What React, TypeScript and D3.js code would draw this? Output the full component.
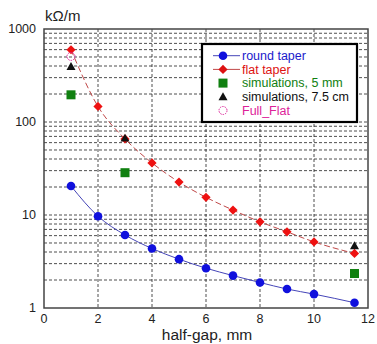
import React from "react";
import * as d3 from "d3";

// half-gap (mm) for the taper curves
const gapRound = [1, 2, 3, 4, 5, 6, 7, 8, 9, 10, 11.5];
const roundTaper = [20.5, 9.7, 6.1, 4.36, 3.35, 2.68, 2.23, 1.88, 1.6, 1.41, 1.14];
const flatTaper = [598, 147, 65.7, 36.3, 22.6, 15.5, 11.3, 8.45, 6.59, 5.14, 3.86];

const gapSim = [1, 3, 11.5];
const sim5mm = [196, 28.5, 2.35];
const sim75cm = [395, 66.9, 4.66];

const gapFull = [1];
const fullFlat = [507];

const xTicks = [0, 2, 4, 6, 8, 10, 12];
const yTicks = [1, 10, 100, 1000];

const legendItems = [
  { label: "round taper", color: "#1a1acc", kind: "round" },
  { label: "flat taper", color: "#dd1111", kind: "flat" },
  { label: "simulations, 5 mm", color: "#108010", kind: "square" },
  { label: "simulations, 7.5 cm", color: "#111111", kind: "tri" },
  { label: "Full_Flat", color: "#dd2299", kind: "ring" },
];

const W = 377;
const H = 344;
const m = { left: 44, right: 9, top: 29, bottom: 36 };

export default function App() {
  const x = d3.scaleLinear().domain([0, 12]).range([m.left, W - m.right]);
  const y = d3.scaleLog().domain([1, 1000]).range([H - m.bottom, m.top]);

  const minorY: number[] = [];
  [1, 10, 100].forEach((d) => {
    for (let k = 1; k <= 9; k++) {
      const v = d * k;
      if (v > 1 && v < 1000) minorY.push(v);
    }
  });

  const line = d3
    .line<[number, number]>()
    .x((d) => x(d[0]))
    .y((d) => y(d[1]))
    .curve(d3.curveMonotoneX);

  const diamond = (cx: number, cy: number, r: number) =>
    `M${cx},${cy - r}L${cx + r},${cy}L${cx},${cy + r}L${cx - r},${cy}Z`;
  const tri = (cx: number, cy: number, r: number) =>
    `M${cx},${cy - r}L${cx + r},${cy + r * 0.75}L${cx - r},${cy + r * 0.75}Z`;

  const marker = (kind: string, cx: number, cy: number, color: string, key: string | number) => {
    if (kind === "round") return <circle key={key} cx={cx} cy={cy} r={4.3} fill={color} />;
    if (kind === "flat") return <path key={key} d={diamond(cx, cy, 4.6)} fill={color} />;
    if (kind === "square")
      return <rect key={key} x={cx - 4.5} y={cy - 4.5} width={9} height={9} fill={color} />;
    if (kind === "tri") return <path key={key} d={tri(cx, cy, 4.5)} fill={color} />;
    return (
      <circle
        key={key}
        cx={cx}
        cy={cy}
        r={4}
        fill="none"
        stroke={color}
        strokeWidth={1}
        strokeDasharray="1.5,1"
      />
    );
  };

  const lg = { x: 202, y: 44, w: 155, h: 78, row: 13.7 };

  return (
    <svg
      width={W}
      height={H}
      style={{ position: "absolute", left: 0, top: 0, background: "#fff" }}
      fontFamily="Liberation Sans, Arial, sans-serif"
    >
      {/* horizontal grid */}
      {minorY.map((v) => (
        <line
          key={"hy" + v}
          x1={m.left}
          x2={W - m.right}
          y1={y(v)}
          y2={y(v)}
          stroke="#222"
          strokeWidth={0.8}
          strokeDasharray="3,2"
        />
      ))}
      {/* vertical grid */}
      {xTicks.slice(1, -1).map((t) => (
        <line
          key={"vx" + t}
          x1={x(t)}
          x2={x(t)}
          y1={m.top}
          y2={H - m.bottom}
          stroke="#222"
          strokeWidth={0.8}
          strokeDasharray="3,2"
        />
      ))}
      <rect
        x={m.left}
        y={m.top}
        width={W - m.left - m.right}
        height={H - m.top - m.bottom}
        fill="none"
        stroke="#444"
        strokeWidth={1.5}
      />

      {/* curves */}
      <path
        d={line(gapRound.map((g, i) => [g, roundTaper[i]]) as [number, number][]) || ""}
        fill="none"
        stroke="#4545b8"
        strokeWidth={1}
      />
      <path
        d={line(gapRound.map((g, i) => [g, flatTaper[i]]) as [number, number][]) || ""}
        fill="none"
        stroke="#c04848"
        strokeWidth={1}
        strokeDasharray="6,3"
      />

      {gapRound.map((g, i) => marker("round", x(g), y(roundTaper[i]), "#1010dd", "r" + i))}
      {gapRound.map((g, i) => marker("flat", x(g), y(flatTaper[i]), "#ee1111", "f" + i))}
      {gapSim.map((g, i) => marker("square", x(g), y(sim5mm[i]), "#108010", "s" + i))}
      {gapSim.map((g, i) => marker("tri", x(g), y(sim75cm[i]), "#111", "t" + i))}
      {gapFull.map((g, i) => marker("ring", x(g), y(fullFlat[i]), "#dd2299", "u" + i))}

      {/* axis labels */}
      {xTicks.map((t) => (
        <text key={"xt" + t} x={x(t)} y={H - m.bottom + 15} fontSize={12.5} textAnchor="middle" fill="#222">
          {t}
        </text>
      ))}
      {yTicks.map((t) => (
        <text key={"yt" + t} x={m.left - 8} y={y(t) + 4} fontSize={12.5} textAnchor="end" fill="#222">
          {t}
        </text>
      ))}
      <text x={45} y={21} fontSize={15} fill="#222">
        kΩ/m
      </text>
      <text x={207} y={340} fontSize={15.5} textAnchor="middle" fill="#222">
        half-gap, mm
      </text>

      {/* legend */}
      <rect x={lg.x} y={lg.y} width={lg.w} height={lg.h} fill="#fff" stroke="#000" strokeWidth={2.2} />
      {legendItems.map((it, i) => {
        const cy = lg.y + 11.7 + i * lg.row;
        return (
          <g key={"lg" + i}>
            {it.kind === "round" && (
              <line x1={213} x2={240} y1={cy} y2={cy} stroke="#4545b8" strokeWidth={1} />
            )}
            {it.kind === "flat" && (
              <line x1={213} x2={240} y1={cy} y2={cy} stroke="#c04848" strokeWidth={1} />
            )}
            {marker(it.kind, 223, cy, it.kind === "round" ? "#1010dd" : it.color, "m" + i)}
            <text x={242} y={cy + 4.3} fontSize={12.5} fill={it.color}>
              {it.label}
            </text>
          </g>
        );
      })}
    </svg>
  );
}
